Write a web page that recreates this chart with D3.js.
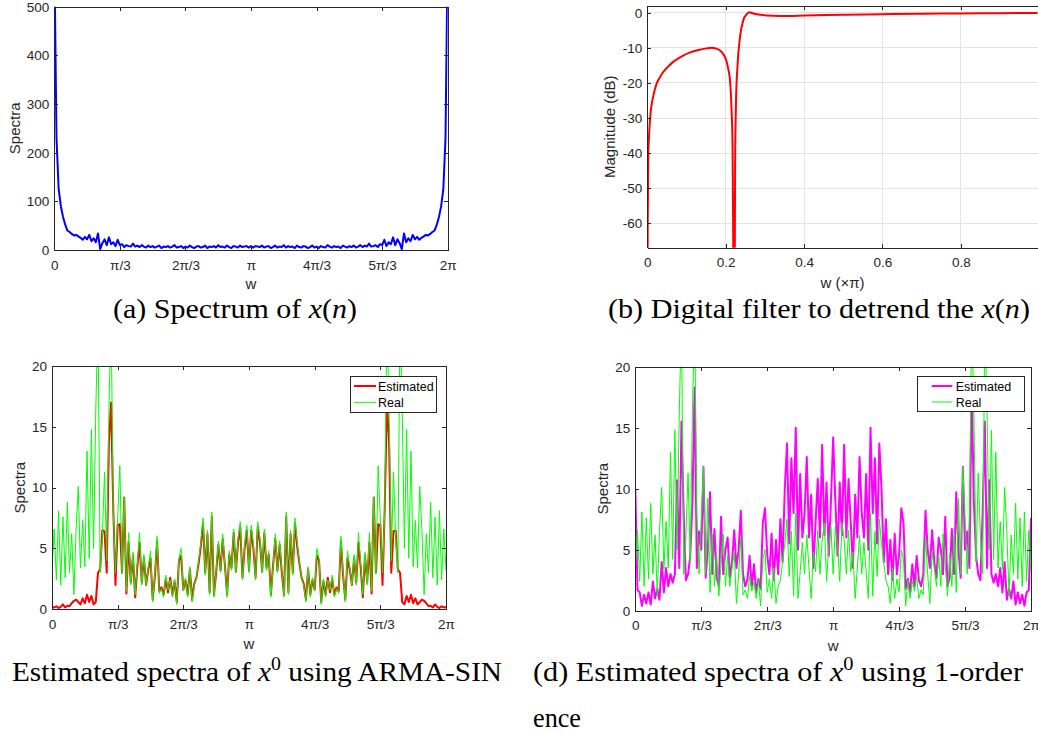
<!DOCTYPE html>
<html><head><meta charset="utf-8">
<script src="https://cdn.jsdelivr.net/npm/d3@7"></script>
<style>
body{margin:0;background:#fff;overflow:hidden}
svg{display:block}
</style>
</head><body>
<svg id="chart" width="1038" height="734"></svg>
<script>
// ---------------- DATA ----------------
const wTickValues = [0, Math.PI/3, 2*Math.PI/3, Math.PI, 4*Math.PI/3, 5*Math.PI/3, 2*Math.PI];
const wTickLabels = ["0", "π/3", "2π/3", "π", "4π/3", "5π/3", "2π"];
const spectraTicksA = [0, 100, 200, 300, 400, 500];
const spectraTicksCD = [0, 5, 10, 15, 20];
const filterXTicks = [0, 0.2, 0.4, 0.6, 0.8];
const filterYTicks = [-60, -50, -40, -30, -20, -10, 0];

// (a) spectrum of x(n), 181 samples over [0, 2π]
const spectrumX = [
 620,230,125,90,68,52,40,37,33,30,
 31,28,25,21,27,22,31,18,24,16,
 34,2,14,22,10,26,12,16,8,21,
 10,12,6,10,8,7,13,7,9,6,
 10,7,5,9,6,8,5,7,9,4,
 7,6,8,5,7,10,5,6,8,4,
 7,5,9,6,4,7,8,5,6,9,
 4,7,6,8,5,10,6,7,5,9,
 6,4,8,7,5,9,6,7,8,5,
 8,
 5,8,7,6,9,5,7,8,4,6,
 9,5,7,6,10,5,8,6,7,4,
 9,6,5,8,7,4,6,9,5,7,
 4,8,6,5,10,7,5,8,6,7,
 4,9,7,5,8,6,9,5,7,10,
 6,9,7,13,7,8,10,6,12,10,
 21,8,16,12,26,10,22,14,2,34,
 16,24,18,31,22,27,21,25,28,31,
 30,33,37,40,52,68,90,125,230,620
];

// (b) digital filter magnitude response
const filterW = [0,0.001,0.0026,0.0045,0.0068,0.01,0.015,0.02,0.024,0.03,
 0.041,0.05,0.066,0.08,0.09,0.109,0.13,0.151,0.164,0.175,
 0.186,0.194,0.2026,0.207,0.211,0.215,0.2175,0.219,0.2205,0.2222,
 0.224,0.2264,0.23,0.2366,0.245,0.254,0.26,0.27,0.29,0.32,
 0.36,0.4,0.5,0.6,0.7,0.8,0.9,0.996];
const filterDb = [-120,-60,-40,-35,-30.6,-27,-23.9,-21.5,-20.1,-18.8,
 -16.8,-15.7,-14.0,-12.9,-12.3,-11.3,-10.6,-10.15,-10.0,-10.2,
 -10.8,-11.8,-14.0,-16.3,-19.2,-27.7,-38,-60,-100,-100,
 -44,-25,-15.4,-6.8,-2.1,-0.4,0.1,-0.2,-0.6,-0.85,
 -0.9,-0.8,-0.6,-0.4,-0.3,-0.2,-0.12,-0.05];

// (c)/(d) real spectrum of x0
const realSpectra = [
 3.2,6.6,2.4,8.1,2.0,7.6,2.6,8.8,3.0,6.2,
 1.2,6.5,10.1,3.4,7.3,3.5,13.0,4.2,14.8,5.0,
 16.3,24.0,3.0,6.0,11.3,4.0,16.5,24.0,8.0,3.0,
 7.5,11.8,3.0,9.2,1.5,6.3,2.0,4.7,1.2,3.8,
 6.3,2.0,4.5,2.0,3.5,4.8,0.6,3.0,6.0,1.3,
 1.7,1.0,2.8,1.6,2.4,1.0,2.5,0.4,4.2,5.0,
 1.5,2.6,1.0,3.5,0.6,2.0,2.5,4.0,5.5,7.5,
 2.8,6.5,1.2,8.0,1.0,3.2,5.6,3.0,6.2,3.5,
 1.0,4.8,3.2,6.6,3.0,5.8,7.2,2.4,5.3,6.9,
 3.0,
 6.9,5.3,2.4,7.2,5.8,3.0,6.6,3.2,4.8,1.0,
 3.5,6.2,3.0,5.6,3.2,1.0,8.0,1.2,6.5,2.8,
 7.5,5.5,4.0,2.5,2.0,0.6,3.5,1.0,2.6,1.5,
 5.0,4.2,0.4,2.5,1.0,2.4,1.6,2.8,1.0,1.7,
 1.3,6.0,3.0,0.6,4.8,3.5,2.0,4.5,2.0,6.3,
 3.8,1.2,4.7,2.0,6.3,1.5,9.2,3.0,11.8,7.5,
 3.0,8.0,24.0,16.5,4.0,11.3,6.0,3.0,24.0,16.3,
 5.0,14.8,4.2,13.0,3.5,7.3,3.4,10.1,6.5,1.2,
 6.2,3.0,8.8,2.6,7.6,2.0,8.1,2.4,6.6,3.2
];

// (c) estimated with ARMA-SIN
const armaSpectra = [
 0.2,0.15,0.25,0.1,0.2,0.4,0.15,0.3,0.25,0.5,
 0.7,0.8,0.6,0.4,0.9,0.5,1.2,0.6,1.1,0.4,
 0.6,3.0,3.3,6.5,6.4,3.0,13.8,17.0,8.2,2.0,
 6.9,7.0,3.0,9.2,1.3,5.5,2.2,4.4,1.0,3.5,
 5.5,2.2,4.2,2.0,3.3,4.2,0.8,2.7,5.6,1.5,
 1.8,1.2,2.5,1.4,2.6,1.2,2.3,0.6,4.0,4.4,
 1.6,2.4,1.2,3.3,0.8,2.1,2.6,3.8,5.2,7.1,
 3.0,6.2,1.4,7.6,1.2,3.0,5.3,3.2,5.8,3.6,
 1.2,4.5,3.4,6.3,3.1,5.5,6.8,2.6,5.0,6.5,
 3.2,
 6.5,5.0,2.6,6.8,5.5,3.1,6.3,3.4,4.5,1.2,
 3.6,5.8,3.2,5.3,3.0,1.2,7.6,1.4,6.2,3.0,
 7.1,5.2,3.8,2.6,2.1,0.8,3.3,1.2,2.4,1.6,
 4.4,4.0,0.6,2.3,1.2,2.6,1.4,2.5,1.2,1.8,
 1.5,5.6,2.7,0.8,4.2,3.3,2.0,4.2,2.2,5.5,
 3.5,1.0,4.4,2.2,5.5,1.3,9.2,3.0,7.0,6.9,
 2.0,8.2,17.0,13.8,3.0,6.4,6.5,3.3,3.0,0.6,
 0.4,1.1,0.6,1.2,0.5,0.9,0.4,0.6,0.8,0.7,
 0.5,0.25,0.3,0.15,0.4,0.2,0.1,0.25,0.15,0.2
];

// (d) estimated with 1-order difference
const diffSpectra = [
 10.0,1.7,1.5,0.4,1.3,0.6,1.5,0.5,2.4,1.0,
 1.8,0.9,4.0,1.5,3.5,2.0,3.0,2.3,3.0,10.7,
 3.5,15.5,8.0,2.5,3.0,4.5,9.0,18.3,3.5,6.5,
 5.0,11.8,2.7,5.0,9.7,3.0,6.7,2.7,2.0,7.7,
 3.0,5.0,6.0,2.7,4.0,6.6,3.5,5.0,8.2,3.0,
 2.0,2.5,4.5,2.0,3.8,1.5,2.6,1.8,7.2,8.4,
 4.6,3.0,6.3,2.5,5.8,3.0,7.5,4.0,10.0,13.7,
 5.5,12.5,8.0,15.0,5.0,11.2,6.0,8.0,12.6,6.0,
 9.5,3.5,7.2,10.8,6.0,13.6,6.2,10.5,4.5,9.0,
 14.2,
 9.0,4.5,10.5,6.2,13.6,6.0,10.8,7.2,3.5,9.5,
 6.0,12.6,8.0,6.0,11.2,5.0,15.0,8.0,12.5,5.5,
 13.7,10.0,4.0,7.5,3.0,5.8,2.5,6.3,3.0,4.6,
 8.4,7.2,1.8,2.6,1.5,3.8,2.0,4.5,2.5,2.0,
 3.0,8.2,5.0,3.5,6.6,4.0,2.7,6.0,5.0,3.0,
 7.7,2.0,2.7,6.7,3.0,9.7,5.0,2.7,11.8,5.0,
 6.5,3.5,18.3,9.0,4.5,3.0,2.5,8.0,15.5,3.5,
 10.7,3.0,2.3,3.0,2.0,3.5,1.5,4.0,0.9,1.8,
 1.0,2.4,0.5,1.5,0.6,1.3,0.4,1.5,1.7,7.6
];

// sample frequencies of the 181-point spectra (uniform grid on [0, 2π])
const wGrid = d3.range(spectrumX.length).map(i => i * 2 * Math.PI / (spectrumX.length - 1));

// ---------------- DRAWING ----------------
const INK = "#262626";
const SANS = "'Liberation Sans', Arial, Helvetica, sans-serif";
const SERIF = "'Liberation Serif', 'Times New Roman', serif";
const svg = d3.select("#chart");

function panel(p) {
  const w = p.x1 - p.x0, h = p.y1 - p.y0;
  const g = svg.append("g").attr("transform", `translate(${p.x0},${p.y0})`);
  const x = d3.scaleLinear().domain(p.xDomain).range([0, w]);
  const y = d3.scaleLinear().domain(p.yDomain).range([h, 0]);
  g.append("rect").attr("width", w).attr("height", h).attr("fill", "#fff");
  const clipId = "clip-" + p.id;
  g.append("clipPath").attr("id", clipId).append("rect").attr("width", w).attr("height", h);

  if (p.grid) {
    const gg = g.append("g").attr("shape-rendering", "crispEdges");
    gg.selectAll("line.vx").data(p.xTicks.filter(v => v > p.xDomain[0])).join("line")
      .attr("x1", d => x(d)).attr("x2", d => x(d)).attr("y1", 0).attr("y2", h)
      .attr("stroke", "#e3e3e3").attr("stroke-width", 1);
    gg.selectAll("line.hy").data(p.yTicks).join("line")
      .attr("y1", d => y(d)).attr("y2", d => y(d)).attr("x1", 0).attr("x2", w)
      .attr("stroke", "#e3e3e3").attr("stroke-width", 1);
  }

  const lines = g.append("g").attr("clip-path", `url(#${clipId})`);
  p.series.forEach(s => {
    const gen = d3.line()
      .x((d, i) => x(s.xs[i]))
      .y(d => y(d))
      .curve(s.curve || d3.curveLinear);
    lines.append("path").datum(s.values)
      .attr("d", gen).attr("fill", "none")
      .attr("stroke", s.color).attr("stroke-width", s.width)
      .attr("stroke-linejoin", "round");
  });

  const axStyle = sel => {
    sel.attr("font-size", null).attr("font-family", null);
    sel.select(".domain").attr("stroke", INK).attr("stroke-width", 1);
    sel.selectAll(".tick line").attr("stroke", INK).attr("stroke-width", 1);
    sel.selectAll(".tick text").attr("fill", INK)
      .style("font-family", SANS).style("font-size", "13.5px");
    sel.attr("shape-rendering", "crispEdges");
  };
  const T = 4;
  const xFmt = p.xTickLabels ? (d, i) => p.xTickLabels[i] : (d => String(d));
  const yFmt = d => String(d);
  g.append("g").attr("transform", `translate(0,${h})`)
    .call(d3.axisBottom(x).tickValues(p.xTicks).tickFormat(xFmt).tickSize(-T).tickSizeOuter(0).tickPadding(p.xPad))
    .call(axStyle);
  g.append("g")
    .call(d3.axisTop(x).tickValues(p.xTicks).tickFormat("").tickSize(-T).tickSizeOuter(0))
    .call(axStyle);
  g.append("g")
    .call(d3.axisLeft(y).tickValues(p.yTicks).tickFormat(yFmt).tickSize(-T).tickSizeOuter(0).tickPadding(5))
    .call(axStyle);
  if (!p.noRight) {
    g.append("g").attr("transform", `translate(${w},0)`)
      .call(d3.axisRight(y).tickValues(p.yTicks).tickFormat("").tickSize(-T).tickSizeOuter(0))
      .call(axStyle);
  }

  // axis labels
  svg.append("text").attr("x", p.x0 + w / 2).attr("y", p.xLabelY)
    .attr("text-anchor", "middle").attr("fill", INK)
    .style("font-family", SANS).style("font-size", "15px").text(p.xLabel);
  svg.append("text")
    .attr("transform", `translate(${p.yLabelX},${p.y0 + h / 2}) rotate(-90)`)
    .attr("text-anchor", "middle").attr("dy", "0.35em").attr("fill", INK)
    .style("font-family", SANS).style("font-size", "15px").text(p.yLabel);

  if (p.legend) {
    const L = p.legend;
    svg.append("rect").attr("x", L.x0).attr("y", L.y0)
      .attr("width", L.x1 - L.x0).attr("height", L.y1 - L.y0)
      .attr("fill", "#fff").attr("stroke", INK).attr("stroke-width", 1)
      .attr("shape-rendering", "crispEdges");
    p.series.forEach((s, k) => {
      const cy = L.rows[k];
      svg.append("line").attr("x1", L.lx0).attr("x2", L.lx1).attr("y1", cy).attr("y2", cy)
        .attr("stroke", s.color).attr("stroke-width", s.width);
      svg.append("text").attr("x", L.tx).attr("y", cy).attr("dy", "0.36em")
        .attr("fill", "#000").style("font-family", SANS).style("font-size", "12.5px")
        .text(s.name);
    });
  }
}

panel({
  id: "a", x0: 54.3, x1: 447.7, y0: 6.7, y1: 250,
  xDomain: [0, 2 * Math.PI], yDomain: [0, 500],
  xTicks: wTickValues, xTickLabels: wTickLabels, yTicks: spectraTicksA, xPad: 10,
  xLabel: "w", xLabelY: 288.7, yLabel: "Spectra", yLabelX: 14.5,
  series: [{ name: "Spectrum", xs: wGrid, values: spectrumX, color: "#0000ff", width: 2 }]
});

panel({
  id: "b", x0: 647.3, x1: 1037.7, y0: 5.7, y1: 247.7,
  xDomain: [0, 0.996], yDomain: [-66.9, 2], grid: true, noRight: true,
  xTicks: filterXTicks, yTicks: filterYTicks, xPad: 9.5,
  xLabel: "w (×π)", xLabelY: 287.5, yLabel: "Magnitude (dB)", yLabelX: 610,
  series: [{ name: "Filter", xs: filterW, values: filterDb, color: "#ff0000", width: 2, curve: d3.curveMonotoneX }]
});

panel({
  id: "c", x0: 52, x1: 446, y0: 366, y1: 609.3,
  xDomain: [0, 2 * Math.PI], yDomain: [0, 20],
  xTicks: wTickValues, xTickLabels: wTickLabels, yTicks: spectraTicksCD, xPad: 10,
  xLabel: "w", xLabelY: 649, yLabel: "Spectra", yLabelX: 20,
  series: [
    { name: "Estimated", xs: wGrid, values: armaSpectra, color: "#ff0000", width: 2 },
    { name: "Real", xs: wGrid, values: realSpectra, color: "#00ff00", width: 1 }
  ],
  legend: { x0: 350.5, x1: 436.5, y0: 376, y1: 412, lx0: 354, lx1: 376, tx: 378, rows: [386, 402.3] }
});

panel({
  id: "d", x0: 635.3, x1: 1031, y0: 366.7, y1: 610.7,
  xDomain: [0, 2 * Math.PI], yDomain: [0, 20],
  xTicks: wTickValues, xTickLabels: wTickLabels, yTicks: spectraTicksCD, xPad: 10,
  xLabel: "w", xLabelY: 650.7, yLabel: "Spectra", yLabelX: 603,
  series: [
    { name: "Estimated", xs: wGrid, values: diffSpectra, color: "#ff00ff", width: 2 },
    { name: "Real", xs: wGrid, values: realSpectra, color: "#00ff00", width: 1 }
  ],
  legend: { x0: 917.5, x1: 1024.5, y0: 376, y1: 411, lx0: 931.7, lx1: 952.3, tx: 955.7, rows: [386, 402] }
});

// ---------------- CAPTIONS ----------------
function caption(cfg) {
  const t = svg.append("text").attr("x", cfg.x).attr("y", cfg.y)
    .attr("text-anchor", cfg.anchor || "start").attr("fill", "#000")
    .style("font-family", SERIF).style("font-size", "28px");
  if (cfg.len) t.attr("textLength", cfg.len).attr("lengthAdjust", "spacingAndGlyphs");
  cfg.parts.forEach(pt => {
    const s = t.append("tspan").text(pt.t);
    if (pt.it) s.style("font-style", "italic");
    if (pt.sup) s.attr("dy", -11).style("font-size", "19px");
    if (pt.unsup) s.attr("dy", 11);
  });
}
caption({ x: 235, y: 318, anchor: "middle", len: 244,
  parts: [{ t: "(a) Spectrum of " }, { t: "x", it: 1 }, { t: "(" }, { t: "n", it: 1 }, { t: ")" }] });
caption({ x: 819, y: 318, anchor: "middle", len: 422,
  parts: [{ t: "(b) Digital filter to detrend the " }, { t: "x", it: 1 }, { t: "(" }, { t: "n", it: 1 }, { t: ")" }] });
caption({ x: 12, y: 681, len: 490,
  parts: [{ t: "Estimated spectra of " }, { t: "x", it: 1 }, { t: "0", sup: 1 }, { t: " using ARMA-SIN", unsup: 1 }] });
caption({ x: 533, y: 681, len: 490,
  parts: [{ t: "(d) Estimated spectra of " }, { t: "x", it: 1 }, { t: "0", sup: 1 }, { t: " using 1-order", unsup: 1 }] });
caption({ x: 533, y: 727, len: 48, parts: [{ t: "ence" }] });
</script>
</body></html>
